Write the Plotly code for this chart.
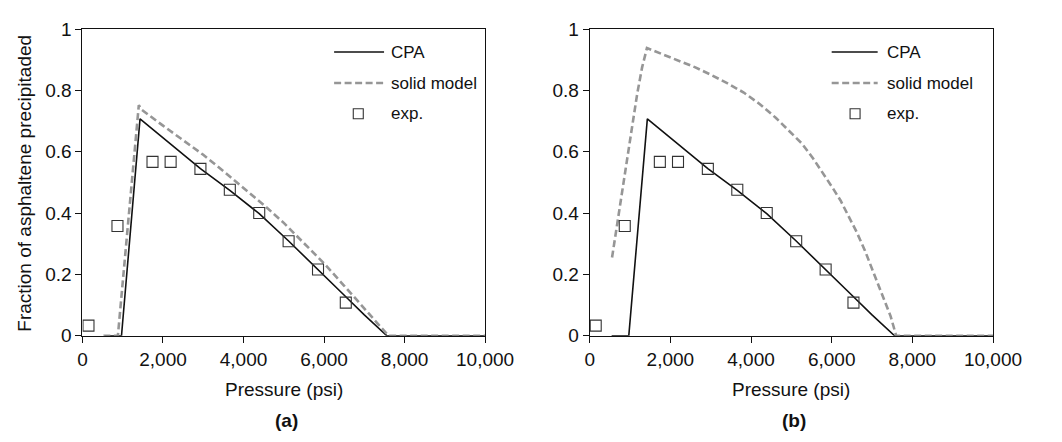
import plotly.graph_objects as go

# ---------------- data ----------------
exp_p = [150, 870, 1740, 2190, 2930, 3660, 4390, 5120, 5850, 6540]
exp_f = [0.033, 0.358, 0.567, 0.567, 0.544, 0.476, 0.400, 0.308, 0.216, 0.108]

cpa_p = [545, 970, 1430, 2000, 2930, 3660, 4390, 5120, 5850, 6540, 7000, 7560, 10000]
cpa_f = [0.0, 0.0, 0.707, 0.645, 0.545, 0.474, 0.398, 0.309, 0.217, 0.127, 0.068, 0.0, 0.0]

solid_a_p = [520, 880, 1400, 1470, 2000, 2500, 3000, 3500, 4000, 4500, 5000, 5500, 6000, 6500, 7000, 7600, 10000]
solid_a_f = [0.0, 0.0, 0.752, 0.737, 0.685, 0.638, 0.59, 0.537, 0.482, 0.427, 0.368, 0.303, 0.236, 0.163, 0.088, 0.0, 0.0]

solid_b_p = [555, 700, 820, 940, 1060, 1180, 1300, 1420, 1800, 2220, 2620, 3020, 3420, 3820, 4220, 4620, 4940, 5260, 5540, 5820, 6020, 6220, 6420, 6620, 6820, 7020, 7180, 7340, 7460, 7600, 10000]
solid_b_f = [0.255, 0.375, 0.48, 0.585, 0.688, 0.79, 0.875, 0.938, 0.918, 0.897, 0.875, 0.850, 0.823, 0.793, 0.755, 0.710, 0.670, 0.627, 0.578, 0.524, 0.483, 0.441, 0.392, 0.338, 0.279, 0.213, 0.163, 0.110, 0.064, 0.0, 0.0]

x_ticks = [0, 2000, 4000, 6000, 8000, 10000]
y_ticks = [0, 0.2, 0.4, 0.6, 0.8, 1]
legend_labels = ["CPA", "solid model", "exp."]
panel_labels = ["(a)", "(b)"]

# ---------------- style ----------------
W, H = 1062, 442
FONT = "Liberation Sans, Arial, sans-serif"
BLACK = "#111111"
GRAY = "#969696"
SQ = "#333333"
DASH = "7px,3.5px"

def px(x):
    return x / W

def py(y):
    return 1 - y / H

fig = go.Figure()

panels = [
    dict(xa="x", ya="y", solid_p=solid_a_p, solid_f=solid_a_f),
    dict(xa="x2", ya="y2", solid_p=solid_b_p, solid_f=solid_b_f),
]

for p in panels:
    fig.add_trace(go.Scatter(x=cpa_p, y=cpa_f, mode="lines", xaxis=p["xa"], yaxis=p["ya"],
                             line=dict(color=BLACK, width=1.6), showlegend=False, hoverinfo="skip"))
    fig.add_trace(go.Scatter(x=p["solid_p"], y=p["solid_f"], mode="lines", xaxis=p["xa"], yaxis=p["ya"],
                             line=dict(color=GRAY, width=2.6, dash=DASH), showlegend=False, hoverinfo="skip"))
    fig.add_trace(go.Scatter(x=exp_p, y=exp_f, mode="markers", xaxis=p["xa"], yaxis=p["ya"],
                             marker=dict(symbol="square-open", size=11, color=SQ, line=dict(width=1.1, color=SQ)),
                             showlegend=False, hoverinfo="skip"))

# plot areas in pixels
left_dom = [px(80), px(496)]
right_dom = [px(604), px(1020.7)]
y_dom = [py(342), py(20)]

axis_common = dict(
    showgrid=False, zeroline=False, showline=True, linecolor=BLACK, linewidth=1,
    mirror=True, ticks="outside", ticklen=6, tickcolor=BLACK, tickwidth=1,
    tickfont=dict(family=FONT, size=19, color="#111111"),
)

fig.update_layout(
    width=W, height=H,
    margin=dict(l=0, r=0, t=0, b=0),
    paper_bgcolor="white", plot_bgcolor="white",
    xaxis=dict(domain=left_dom, range=[0, 10000], tickvals=x_ticks, tickformat=",d", anchor="y", **axis_common),
    yaxis=dict(domain=y_dom, range=[0, 1], tickvals=y_ticks, anchor="x", **axis_common),
    xaxis2=dict(domain=right_dom, range=[0, 10000], tickvals=x_ticks, tickformat=",d", anchor="y2", **axis_common),
    yaxis2=dict(domain=y_dom, range=[0, 1], tickvals=y_ticks, anchor="x2", **axis_common),
    showlegend=False,
)

annotations = []
shapes = []
for i, dom in enumerate([left_dom, right_dom]):
    cx = (dom[0] + dom[1]) / 2
    annotations.append(dict(text="Pressure (psi)", x=cx, y=py(398), xref="paper", yref="paper",
                            showarrow=False, xanchor="center", yanchor="middle",
                            font=dict(family=FONT, size=19, color="#111111")))
    annotations.append(dict(text="<b>" + panel_labels[i] + "</b>", x=cx + px(3), y=py(431), xref="paper", yref="paper",
                            showarrow=False, xanchor="center", yanchor="middle",
                            font=dict(family=FONT, size=19, color="#111111")))

annotations.append(dict(text="Fraction of asphaltene precipitaded", x=px(20), y=py(182), xref="paper", yref="paper",
                        showarrow=False, textangle=-90, xanchor="center", yanchor="middle",
                        font=dict(family=FONT, size=19, color="#111111")))

leg_cfg = [
    dict(xr="x domain", yr="y domain", l0=0.625, l1=0.749, sq=0.685, tx=0.762),
    dict(xr="x2 domain", yr="y2 domain", l0=0.600, l1=0.714, sq=0.658, tx=0.731),
]
leg_y = [0.925, 0.824, 0.724]
for c in leg_cfg:
    shapes.append(dict(type="line", xref=c["xr"], yref=c["yr"], x0=c["l0"], x1=c["l1"], y0=leg_y[0], y1=leg_y[0],
                       line=dict(color=BLACK, width=1.6)))
    shapes.append(dict(type="line", xref=c["xr"], yref=c["yr"], x0=c["l0"], x1=c["l1"], y0=leg_y[1], y1=leg_y[1],
                       line=dict(color=GRAY, width=2.6, dash=DASH)))
    shapes.append(dict(type="rect", xref=c["xr"], yref=c["yr"], xsizemode="pixel", ysizemode="pixel",
                       xanchor=c["sq"], yanchor=leg_y[2], x0=-5, x1=5, y0=-5, y1=5,
                       line=dict(color=SQ, width=1.1), fillcolor="rgba(0,0,0,0)"))
    for lab, yy in zip(legend_labels, leg_y):
        annotations.append(dict(text=lab, x=c["tx"], y=yy, xref=c["xr"], yref=c["yr"], showarrow=False,
                                xanchor="left", yanchor="middle",
                                font=dict(family=FONT, size=17, color="#111111")))

fig.update_layout(annotations=annotations, shapes=shapes)
fig.write_html("out.html", config={"responsive": False, "displayModeBar": False},
               post_script="document.body.style.margin='0px';document.body.style.overflow='hidden';")
